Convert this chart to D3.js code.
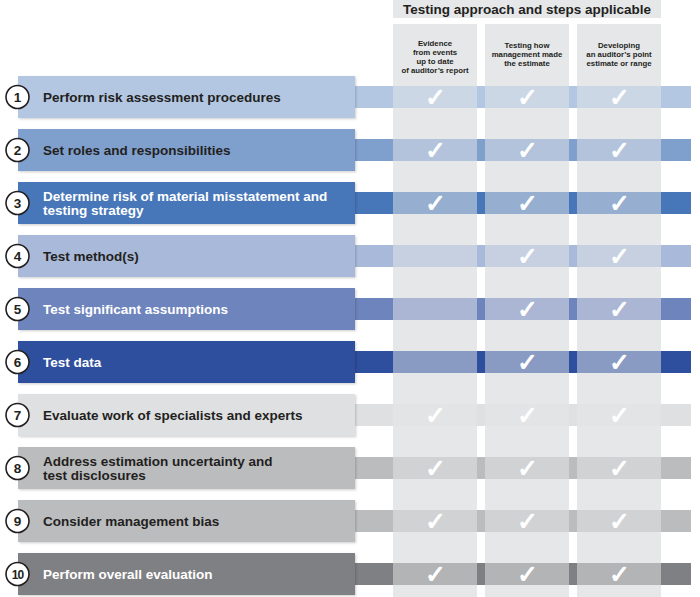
<!DOCTYPE html>
<html>
<head>
<meta charset="utf-8">
<script src="https://cdn.jsdelivr.net/npm/d3@7"></script>
<style>
  html, body { margin: 0; padding: 0; background: #ffffff; }
  svg { display: block; }
  text { font-family: "Liberation Sans", Arial, Helvetica, sans-serif; }
</style>
</head>
<body>
<svg id="chart" width="700" height="597"></svg>
<script>
// ---------------- DATA ----------------
const title = "Testing approach and steps applicable";

const approaches = [
  ["Evidence", "from events", "up to date", "of auditor\u2019s report"],
  ["Testing how", "management made", "the estimate"],
  ["Developing", "an auditor\u2019s point", "estimate or range"]
];

const stepNumbers = [1, 2, 3, 4, 5, 6, 7, 8, 9, 10];

const stepLabels = [
  ["Perform risk assessment procedures"],
  ["Set roles and responsibilities"],
  ["Determine risk of material misstatement and", "testing strategy"],
  ["Test method(s)"],
  ["Test significant assumptions"],
  ["Test data"],
  ["Evaluate work of specialists and experts"],
  ["Address estimation uncertainty and", "test disclosures"],
  ["Consider management bias"],
  ["Perform overall evaluation"]
];

// 1 = applicable (check mark), 0 = not applicable; one column per approach
const applicable = [
  [1, 1, 1],
  [1, 1, 1],
  [1, 1, 1],
  [0, 1, 1],
  [0, 1, 1],
  [0, 1, 1],
  [1, 1, 1],
  [1, 1, 1],
  [1, 1, 1],
  [1, 1, 1]
];

// ---------------- STYLE ----------------
const rowColors = ["#b3c7e3", "#7f9fcd", "#4777b9", "#a9b9d9", "#6e84bc",
                   "#2e4f9d", "#dfe0e2", "#bbbcbe", "#bbbcbe", "#7f8083"];
const textColors = ["#231f20", "#231f20", "#ffffff", "#231f20", "#ffffff",
                    "#ffffff", "#231f20", "#231f20", "#231f20", "#ffffff"];
const columnGray = "#e6e7e9";

const svg = d3.select("#chart");

const y = d3.scalePoint().domain(stepNumbers).range([97, 574]);
const x = d3.scaleBand().domain(d3.range(approaches.length))
  .range([393, 661]).paddingInner(8 / 92).paddingOuter(0);

const barH = 42, stripH = 22;
const barX0 = 18, barX1 = 355, stripX1 = 691;

// shadow filter
const defs = svg.append("defs");
const f = defs.append("filter").attr("id", "shadow")
  .attr("x", "-5%").attr("y", "-20%").attr("width", "110%").attr("height", "150%");
f.append("feDropShadow").attr("dx", 1.2).attr("dy", 1.2).attr("stdDeviation", 1)
  .attr("flood-color", "#000").attr("flood-opacity", 0.18);

// title box
svg.append("rect").attr("x", x.range()[0]).attr("y", 0)
  .attr("width", x.range()[1] - x.range()[0]).attr("height", 18)
  .attr("fill", columnGray);
svg.append("text").attr("x", (x.range()[0] + x.range()[1]) / 2).attr("y", 14)
  .attr("text-anchor", "middle").attr("font-size", 13.5).attr("font-weight", "bold")
  .attr("fill", "#231f20").text(title);

// columns
const cols = svg.append("g").selectAll("g").data(approaches).join("g");
cols.append("rect")
  .attr("x", (d, i) => x(i)).attr("y", 24)
  .attr("width", x.bandwidth()).attr("height", 597 - 24)
  .attr("fill", columnGray);
cols.each(function (lines, i) {
  const g = d3.select(this);
  const lh = 9;
  const cy = 56.5 - (lines.length === 4 ? 0 : 2);
  const t0 = cy - (lines.length - 1) * lh / 2;
  lines.forEach((ln, k) => {
    g.append("text").attr("x", x(i) + x.bandwidth() / 2).attr("y", t0 + k * lh + 2.8)
      .attr("text-anchor", "middle").attr("font-size", 7.8).attr("font-weight", "bold")
      .attr("fill", "#231f20").text(ln);
  });
});

// rows
const rows = svg.append("g").selectAll("g").data(stepNumbers).join("g");

// strip across columns
rows.append("rect")
  .attr("x", barX1 - 2).attr("y", d => y(d) - stripH / 2)
  .attr("width", stripX1 - barX1 + 2).attr("height", stripH)
  .attr("fill", (d, i) => rowColors[i]);
// cell overlays and check marks
rows.each(function (d, i) {
  const g = d3.select(this);
  applicable[i].forEach((v, j) => {
    g.append("rect").attr("x", x(j)).attr("y", y(d) - stripH / 2)
      .attr("width", x.bandwidth()).attr("height", stripH)
      .attr("fill", columnGray).attr("opacity", 0.5);
    if (v) {
      g.append("text").attr("x", x(j) + x.bandwidth() / 2).attr("y", y(d) + 8.5)
        .attr("text-anchor", "middle").attr("font-size", 25)
        .attr("font-family", "DejaVu Sans").attr("font-weight", "bold")
        .attr("fill", "#ffffff").text("\u2713");
    }
  });
});

// main bars
rows.append("rect")
  .attr("x", barX0).attr("y", d => y(d) - barH / 2)
  .attr("width", barX1 - barX0).attr("height", barH)
  .attr("fill", (d, i) => rowColors[i]).attr("filter", "url(#shadow)");

// labels
rows.each(function (d, i) {
  const g = d3.select(this);
  const lines = stepLabels[i];
  const lh = 13.5;
  const t0 = y(d) - (lines.length - 1) * lh / 2;
  lines.forEach((ln, k) => {
    g.append("text").attr("x", 43).attr("y", t0 + k * lh + 4.8)
      .attr("font-size", 13.5).attr("font-weight", "bold")
      .attr("fill", textColors[i]).text(ln);
  });
});

// number circles
rows.append("circle")
  .attr("cx", 17.5).attr("cy", d => y(d)).attr("r", 11.5)
  .attr("fill", "#ffffff").attr("stroke", "#231f20").attr("stroke-width", 1.6);
rows.append("text")
  .attr("x", 17.5).attr("y", d => y(d) + 4.8)
  .attr("text-anchor", "middle").attr("font-size", d => d === 10 ? 12 : 13.5)
  .attr("font-weight", "bold").attr("fill", "#231f20")
  .attr("letter-spacing", d => d === 10 ? -0.8 : 0)
  .text(d => d);
</script>
</body>
</html>
